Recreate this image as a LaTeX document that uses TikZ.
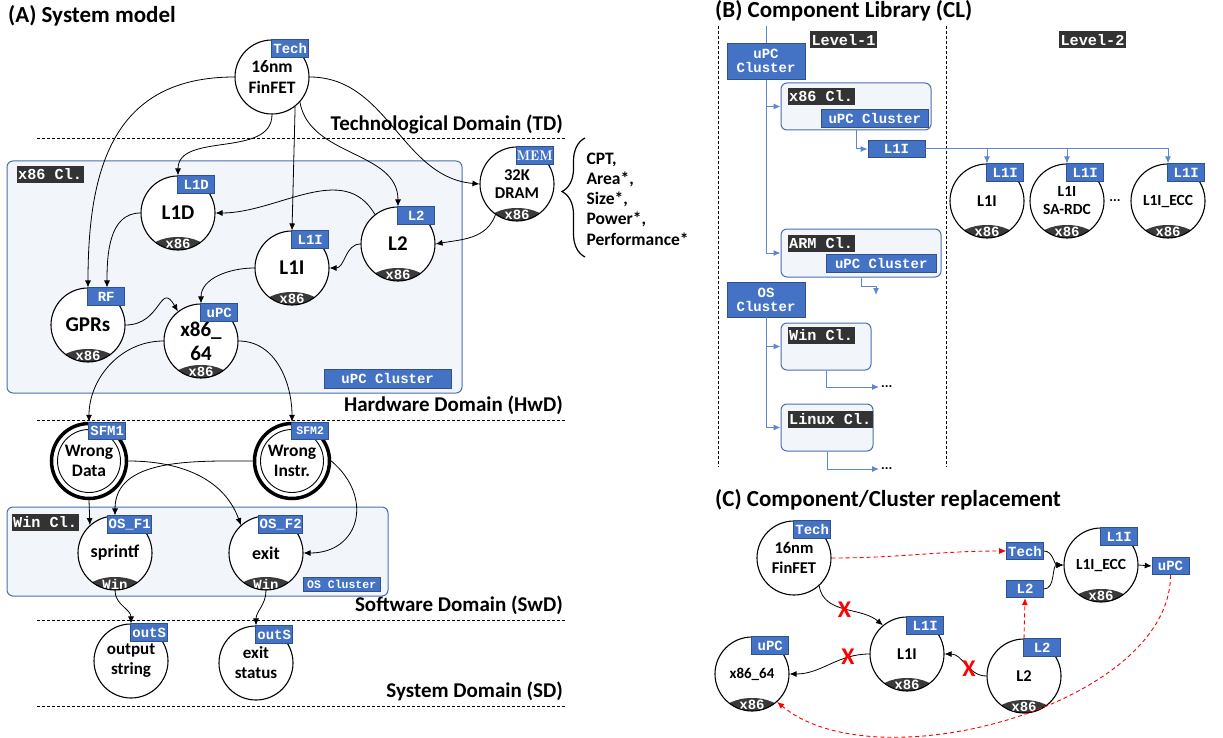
\documentclass[tikz,border=0pt]{standalone}
\usepackage{fontspec}
\setmainfont{Carlito}
\newfontfamily\monofont{Liberation Mono}
\usepackage{xcolor}
\usepackage{tikz}
\usetikzlibrary{shapes.geometric, arrows, arrows.meta, positioning, decorations.pathreplacing}

\definecolor{tagblue}{HTML}{4472C4}
\definecolor{tagedge}{HTML}{2F528F}
\definecolor{darklbl}{HTML}{333333}
\definecolor{capgray}{HTML}{3A3A3A}
\definecolor{clusterfill}{HTML}{F2F5FA}
\definecolor{clusteredge}{HTML}{4A6FAE}
\definecolor{libblue}{HTML}{5B87D0}

\newcommand{\tagfnt}{\monofont\bfseries\fontsize{14}{14}\selectfont}

\tikzset{
  compnode/.style={circle, draw, line width=1.1pt, fill=white, minimum size=74pt, inner sep=0pt,
    align=center, font=\bfseries\fontsize{21}{24}\selectfont},
  sfmnode/.style={circle, draw, line width=3.5pt, fill=white, minimum size=75pt, inner sep=0pt,
    align=center, font=\bfseries\fontsize{17.5}{20}\selectfont,
    path picture={\draw[line width=0.9pt] (path picture bounding box.center) circle (31.5pt);}},
  bottomcap/.style={path picture={
      \fill[capgray] ([yshift=-2pt]path picture bounding box.south) ellipse [x radius=30pt, y radius=15pt];
      \node[captext] at ([yshift=6pt]path picture bounding box.south) {#1};}},
  captext/.style={text=white, font=\monofont\bfseries\fontsize{14}{14}\selectfont, inner sep=0pt},
  tagbox/.style={fill=tagblue, draw=tagedge, line width=0.6pt, text=white, font=\tagfnt,
    minimum width=37pt, minimum height=17.5pt, inner sep=1pt},
  tagged/.style={label={[tagbox, anchor=north east, xshift=37pt]north:#1}},
  darktag/.style={fill=darklbl, text=white, font=\monofont\bfseries\fontsize{15.2}{15.2}\selectfont,
    inner sep=1.5pt, minimum height=17pt},
  clusterbox/.style={draw=clusteredge, fill=clusterfill, line width=1pt, rounded corners=6pt},
  paneltitle/.style={font=\bfseries\fontsize{23}{27}\selectfont, inner sep=0pt},
  domlabel/.style={font=\bfseries\fontsize{21}{25}\selectfont, inner sep=0pt},
  domline/.style={line width=0.9pt, dash pattern=on 3pt off 2pt},
  conn/.style={->, line width=0.8pt},
  redconn/.style={->, draw=red, line width=0.9pt, dash pattern=on 4pt off 3pt},
  libline/.style={->, draw=libblue, line width=1pt},
  ellip/.style={font=\bfseries\fontsize{14}{14}\selectfont, inner sep=2pt},
  xcross/.style={text=red, font=\bfseries\fontsize{24}{24}\selectfont, inner sep=0pt}
}

\begin{document}
\begin{tikzpicture}[x=1pt, y=-1pt, >={Latex[length=7pt, width=6pt]}]
\useasboundingbox (0,0) rectangle (1223,738);

% (A) System model
\node[paneltitle, anchor=base west] (titleA) at (8,23) {(A) System model};

% domain borders
\draw[domline] (37,138) -- (565,138);
\draw[domline] (37,420) -- (565,420);
\draw[domline] (37,620) -- (565,620);
\draw[domline] (37,706) -- (565,706);
\node[domlabel, anchor=base east] (tdlbl) at (563,131) {Technological Domain (TD)};
\node[domlabel, anchor=base east] (hwdlbl) at (563,411) {Hardware Domain (HwD)};
\node[domlabel, anchor=base east] (swdlbl) at (563,611) {Software Domain (SwD)};
\node[domlabel, anchor=base east] (sdlbl) at (563,697) {System Domain (SD)};

% clusters
\node[clusterbox, minimum width=455pt, minimum height=232pt] (x86cl) at (234.5,277) {};
\node[darktag, anchor=north west] (x86name) at ([shift={(10pt,-5pt)}]x86cl.north west) {x86 Cl.};
\node[tagbox, anchor=south east, minimum width=127pt, minimum height=19pt] (upccl) at ([shift={(-11pt,5pt)}]x86cl.south east) {uPC Cluster};
\node[clusterbox, minimum width=381pt, minimum height=89pt] (wincl) at (197.5,551.5) {};
\node[darktag, anchor=north west] (winname) at ([shift={(5pt,-7pt)}]wincl.north west) {Win Cl.};
\node[tagbox, anchor=south east, minimum width=77pt, minimum height=14pt, font=\monofont\bfseries\fontsize{11.5}{11.5}\selectfont] (oscl) at ([shift={(-8pt,5pt)}]wincl.south east) {OS Cluster};

% components
\node[compnode, tagged=Tech, font=\bfseries\fontsize{17.5}{21}\selectfont] (tech) at (272,77) {16nm\\FinFET};
\node[compnode, bottomcap=x86, tagged={\fontfamily{lmr}\selectfont\bfseries MEM}, font=\bfseries\fontsize{16.5}{18}\selectfont] (mem) at (517,184) {32K\\DRAM};
\node[compnode, bottomcap=x86, tagged=L1D] (l1d) at (178,213) {L1D};
\node[compnode, bottomcap=x86, tagged=L1I] (l1i) at (292,268) {L1I};
\node[compnode, bottomcap=x86, tagged=L2] (l2) at (398,244) {L2};
\node[compnode, bottomcap=x86, tagged=RF] (gprs) at (88,325) {GPRs};
\node[compnode, bottomcap=x86, tagged=uPC] (x86) at (201,341) {x86\_\\64};

% failure modes
\node[sfmnode, tagged=SFM1] (sfm1) at (89,461) {Wrong\\Data};
\node[sfmnode, tagged={\fontsize{11.5}{11.5}\selectfont SFM2}] (sfm2) at (292,461) {Wrong\\Instr.};

% software and outputs
\node[compnode, bottomcap=Win, tagged=OS\_F1, font=\bfseries\fontsize{18}{21}\selectfont] (sprintf) at (115,553) {sprintf};
\node[compnode, bottomcap=Win, tagged=OS\_F2, font=\bfseries\fontsize{18}{21}\selectfont] (exit) at (266,553) {exit};
\node[compnode, tagged=outS, font=\bfseries\fontsize{17}{20}\selectfont] (outstr) at (131,661) {output\\string};
\node[compnode, tagged=outS, font=\bfseries\fontsize{17}{20}\selectfont] (exitst) at (256,663) {exit\\status};

% parameters of a component
\node[anchor=west, align=left, font=\bfseries\fontsize{17.5}{20.3}\selectfont] (ppa) at (583,199) {CPT,\\Area*,\\Size*,\\Power*,\\Performance*};
\draw[decorate, decoration={brace, amplitude=23pt, aspect=0.55}, line width=1.2pt] (585,257) -- (585,138);

% Tech -> HW
\draw[conn] (tech.south) to[out=-90, in=90] (l1d.north);
\draw[conn] (tech.west) to[out=180, in=90, looseness=1.2] (gprs.north);
\draw[conn] (tech.-52) -- (l1i.north);
\draw[conn] (tech.-42) to[out=-80, in=90] (l2.north);
\draw[conn] (tech.east) to[out=0, in=175] (mem.west);
% HW -> HW
\draw[conn] (mem.235) to[out=-110, in=10] (l2.east);
\draw[conn] (l2.128) to[out=120, in=0] (l1d.east);
\draw[conn] (l2.west) to[out=180, in=0] (l1i.east);
\draw[conn] (l1d.west) to[out=180, in=90] ([xshift=19pt]gprs.north);
\draw[conn] (l1i.west) to[out=180, in=90] (x86.north);
\draw[conn] (gprs.east) to[out=0, in=120, looseness=1.7] (x86.128);
% HW -> SW
\draw[conn] (x86.west) to[out=180, in=90] (sfm1.north);
\draw[conn] (x86.east) to[out=0, in=90] (sfm2.north);
\draw[conn] (sfm1.south) -- (sprintf.132);
\draw[conn] (sfm1.east) to[out=0, in=110] (exit.132);
\draw[conn] (sfm2.west) to[out=180, in=90] (sprintf.north);
\draw[conn] (sfm2.east) to[out=-40, in=0, looseness=1.5] (exit.east);
% SW -> System
\draw[conn] (sprintf.south) to[out=-90, in=90] (outstr.north);
\draw[conn] (exit.south) to[out=-90, in=90] (exitst.north);

% (B) Component Library
\node[paneltitle, anchor=base west] (titleB) at (715,18) {(B) Component Library (CL)};
\draw[domline] (718,26) -- (718,467);
\draw[domline] (946,26) -- (946,467);
\node[darktag] (lev1) at (843.5,40) {Level-1};
\node[darktag] (lev2) at (1092.5,40) {Level-2};

\coordinate (libtop) at (766,26);
\node[clusterbox, minimum width=150pt, minimum height=47pt] (x86lib) at (856,106.5) {};
\node[darktag, anchor=north west] (x86libname) at ([shift={(7pt,-5pt)}]x86lib.north west) {x86 Cl.};
\node[tagbox, anchor=south east, minimum width=107pt, minimum height=18pt] (x86libupc) at ([shift={(-3pt,3pt)}]x86lib.south east) {uPC Cluster};
\node[clusterbox, minimum width=160pt, minimum height=48pt] (armlib) at (861,253) {};
\node[darktag, anchor=north west] (armlibname) at ([shift={(7pt,-6pt)}]armlib.north west) {ARM Cl.};
\node[tagbox, anchor=south east, minimum width=110pt, minimum height=18pt] (armlibupc) at ([shift={(-5pt,5pt)}]armlib.south east) {uPC Cluster};
\draw[libline] (libtop) -- (libtop |- armlib.west) -- (armlib.west);
\draw[libline] (libtop |- x86lib.west) -- (x86lib.west);
\node[tagbox, minimum width=78pt, minimum height=36pt, align=center] (upclib) at (766,61) {uPC\\Cluster};

\coordinate (armmore) at (876,295);
\draw[libline] (armlib.south) -- ++(0,9) -| (armmore);

% level-2 components
\node[tagbox, minimum width=57pt] (l1ilib) at (896.5,149) {L1I};
\node[compnode, bottomcap=x86, tagged=L1I, font=\bfseries\fontsize{16.5}{18}\selectfont] (lv1) at (987,201) {L1I};
\node[compnode, bottomcap=x86, tagged=L1I, font=\bfseries\fontsize{15.5}{18}\selectfont] (lv2) at (1067,201) {L1I\\SA-RDC};
\node[compnode, bottomcap=x86, tagged=L1I, font=\bfseries\fontsize{15.5}{18}\selectfont] (lv3) at (1168,201) {L1I\_ECC};
\node[ellip] (lvdots) at (1115,201) {...};
\draw[libline] (x86lib.south) |- (l1ilib.west);
\draw[libline] (l1ilib.east) -| (lv1.north);
\draw[libline] (l1ilib.east) -| (lv2.north);
\draw[libline] (l1ilib.east) -| (lv3.north);

% OS clusters
\node[clusterbox, minimum width=90pt, minimum height=47pt] (winlib) at (826,346.5) {};
\node[darktag, anchor=north west] (winlibname) at ([shift={(7pt,-4pt)}]winlib.north west) {Win Cl.};
\node[clusterbox, minimum width=92pt, minimum height=47pt] (linlib) at (827,427.5) {};
\node[darktag, anchor=north west] (linlibname) at ([shift={(7pt,-7pt)}]linlib.north west) {Linux Cl.};
\node[tagbox, minimum width=78pt, minimum height=35pt, align=center] (oslib) at (766,299.5) {OS\\Cluster};
\draw[libline] (oslib.south) -- (oslib.south |- linlib.west) -- (linlib.west);
\draw[libline] (oslib.south |- winlib.west) -- (winlib.west);
\node[ellip, anchor=west] (windots) at (879,387) {...};
\node[ellip, anchor=west] (lindots) at (879,469) {...};
\draw[libline] (winlib.south) |- (windots.west);
\draw[libline] (linlib.south) |- (lindots.west);

% (C) Component/Cluster replacement
\node[paneltitle, anchor=base west] (titleC) at (715,506) {(C) Component/Cluster replacement};
\node[compnode, tagged=Tech, font=\bfseries\fontsize{16.5}{20}\selectfont] (finc) at (794,558) {16nm\\FinFET};
\node[compnode, bottomcap=x86, tagged=L1I, font=\bfseries\fontsize{16.5}{18}\selectfont] (l1ic) at (907,654) {L1I};
\node[compnode, bottomcap=x86, tagged=uPC, font=\bfseries\fontsize{15}{18}\selectfont] (x86c) at (752,674) {x86\_64};
\node[compnode, bottomcap=x86, tagged=L2, font=\bfseries\fontsize{16.5}{18}\selectfont] (l2c) at (1024,676) {L2};
\node[compnode, bottomcap=x86, tagged=L1I, font=\bfseries\fontsize{15.5}{18}\selectfont] (eccc) at (1101,565) {L1I\_ECC};
\node[tagbox] (techport) at (1025,551) {Tech};
\node[tagbox] (l2port) at (1025,589) {L2};
\node[tagbox] (upcport) at (1170.5,566) {uPC};

% ports of L1I_ECC
\draw[conn] (techport.east) to[out=0, in=180] (eccc.west);
\draw[conn] (l2port.east) to[out=0, in=180] (eccc.west);
\draw[conn] (eccc.east) -- (upcport.west);
% moved links
\draw[redconn] (finc.east) to[out=0, in=180] (techport.west);
\draw[redconn] (l2c.north) -- (l2port.south);
\draw[redconn] (upcport.south) to[out=-90, in=-40, looseness=0.8] (x86c.-48);
% cut links
\draw[conn] (finc.-48) to[out=-80, in=140] node[xcross, pos=0.5] (xa) {X} (l1ic.130);
\draw[conn] (l1ic.west) to[out=180, in=0] node[xcross, pos=0.25] (xb) {X} (x86c.east);
\draw[conn] (l2c.west) to[out=180, in=0] node[xcross, pos=0.4] (xc) {X} (l1ic.east);
\end{tikzpicture}
\end{document}
